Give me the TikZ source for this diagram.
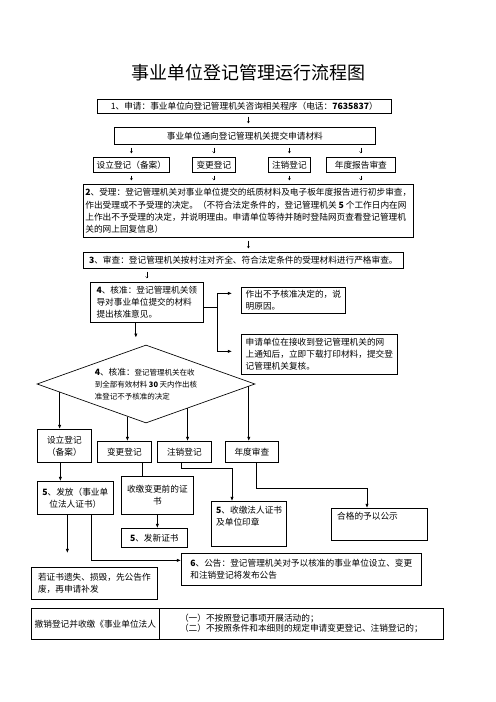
\documentclass[tikz,border=0pt]{standalone}
\usepackage{fontspec}
\setmainfont{Noto Sans CJK SC}
\usepackage{tikz}
\usetikzlibrary{positioning}
\usetikzlibrary{shapes.geometric}
\usetikzlibrary{arrows.meta}
\usetikzlibrary{calc}

\newcommand{\px}{1.2pt}

\tikzset{
  box/.style={draw, line width=0.8pt, inner sep=1pt, anchor=north west, align=center},
  dims/.style 2 args={minimum width=#1*\px, minimum height=#2*\px},
  judge/.style={draw, diamond, line width=0.8pt, inner sep=0pt, aspect=2.8, align=left},
  tick/.style={-{Straight Barb[length=2pt,width=3pt]}, line width=0.4pt, shorten <=3.5pt, shorten >=4.5pt},
  arr/.style={-{Latex[length=5pt,width=4pt]}, line width=0.9pt},
  wire/.style={line width=0.9pt}
}

\begin{document}
\begin{tikzpicture}[x=\px, y=-\px, font=\fontsize{10.4}{14.6}\selectfont]
  \useasboundingbox (0,0) rectangle (496,702);

  \node[font=\fontsize{21.6}{26}\selectfont] (title) at (248,73) {事业单位登记管理运行流程图};

  \node[box, dims={294}{14}] (apply) at (97,99) {1、申请：事业单位向登记管理机关咨询相关程序（电话：\textbf{7635837}）};
  \node[box, dims={261}{17}] (submit) at (114,127) {事业单位通向登记管理机关提交申请材料};

  \node[box, dims={76}{15}] (set) at (93,157) {设立登记（备案）};
  \node[box, dims={43}{15}] (chg) at (192,157) {变更登记};
  \node[box, dims={42}{15}] (cancel) at (268,157) {注销登记};
  \node[box, dims={69}{15}] (annual) at (326,157) {年度报告审查};

  \node[box, dims={330}{53}, align=left] (accept) at (83,184) {\textbf{2}、受理：登记管理机关对事业单位提交的纸质材料及电子板年度报告进行初步审查，\\作出受理或不予受理的决定。（不符合法定条件的，登记管理机关 \textbf{5} 个工作日内在网\\上作出不予受理的决定，并说明理由。申请单位等待并随时登陆网页查看登记管理机\\关的网上回复信息）};
  \node[box, dims={320}{16}] (review) at (83,252) {\textbf{3}、审查：登记管理机关按村注对齐全、符合法定条件的受理材料进行严格审查。};

  \node[box, dims={113}{40}, align=left] (approve) at (90,282) {\textbf{4}、核准：登记管理机关领\\导对事业单位提交的材料\\提出核准意见。};
  \node[box, dims={104}{26}, align=left] (refuse) at (241,287) {作出不予核准决定的，说\\明原因。};
  \node[box, dims={156}{40}, align=left] (recheck) at (241,334) {申请单位在接收到登记管理机关的网\\上通知后，立即下载打印材料，提交登\\记管理机关复核。};

  \node[judge, dims={218}{78}, font=\fontsize{9}{14.4}\selectfont] (decide) at (146,384) {{\fontsize{10.4}{14.4}\selectfont\textbf{4}、核准：}登记管理机关在收\\到全部有效材料 \textbf{30} 天内作出核\\准登记不予核准的决定};

  \node[box, dims={54}{33}] (setup) at (37,429) {设立登记\\（备案）};
  \node[box, dims={54}{21}] (change) at (97,441) {变更登记};
  \node[box, dims={54}{21}] (close) at (157,441) {注销登记};
  \node[box, dims={53}{21}] (yearly) at (225,441) {年度审查};

  \node[box, dims={76}{33}] (issue) at (37,481) {\textbf{5}、发放（事业单\\位法人证书）};
  \node[box, dims={72}{38}] (collect) at (121,476) {收缴变更前的证\\书};
  \node[box, dims={66}{19}] (newcert) at (121,528) {\textbf{5}、发新证书};
  \node[box, dims={75}{45}] (seal) at (211,501) {};
  \node[anchor=north west, align=left, inner sep=0pt] (sealtext) at ([shift={(5,5)}]seal.north west) {\textbf{5}、收缴法人证书\\及单位印章};
  \node[box, dims={96}{32}] (publicize) at (331,508) {};
  \node[anchor=north west, align=left, inner sep=0pt] (publictext) at ([shift={(6,4)}]publicize.north west) {合格的予以公示};
  \node[box, dims={126}{32}, align=left] (lost) at (31,567) {若证书遗失、损毁，先公告作\\废，再申请补发};
  \node[box, dims={240}{32}, align=left] (notice) at (181,553) {\textbf{6}、公告：登记管理机关对予以核准的事业单位设立、变更\\和注销登记将发布公告};

  \node[box, dims={128}{31}] (revoke) at (31,608) {撤销登记并收缴《事业单位法人};
  \node[box, dims={284}{31}, align=left, font=\fontsize{10.4}{12}\selectfont] (reasons) at (159,608) {（一）不按照登记事项开展活动的；\\（二）不按照条件和本细则的规定申请变更登记、注销登记的；};

  \draw[tick] ([xshift=4*\px]apply.south) -- ([xshift=4*\px]apply.south |- submit.north);
  \foreach \k in {set,chg,cancel,annual} {
    \draw[tick] (\k.north |- submit.south) -- (\k.north);
    \draw[tick] (\k.south) -- (\k.south |- accept.north);
  }
  \draw[tick] (accept.south) -- (accept.south |- review.north);
  \draw[tick] (approve.north |- review.south) -- (approve.north);

  \draw[arr, shorten >=8.4pt] ([xshift=-11*\px]approve.south) -- ([xshift=-11*\px]approve.south |- decide.north);
  \coordinate (fork) at ([shift={(14,5)}]approve.east);
  \draw[wire] (approve.east |- fork) -- (fork);
  \draw[arr, shorten >=10.8pt] (fork) |- ([yshift=7*\px]refuse.west);
  \draw[arr, shorten >=10.8pt] (fork) |- ([yshift=3*\px]recheck.west);

  \foreach \t/\a/\b/\k in {0.21/west/south/setup, 0.83/west/south/change, 0.38/south/east/close, 0.94/south/east/yearly} {
    \coordinate (hit) at ($(decide.\a)!\t!(decide.\b)$);
    \draw[arr] (hit) -- (hit |- \k.north);
  }

  \draw[arr] ([xshift=-4*\px]setup.south) -- ([xshift=-4*\px]setup.south |- issue.north);
  \draw[wire] ([xshift=18*\px]change.south) -- ([xshift=18*\px]change.south |- collect.north);
  \draw[arr] (collect.south) -- (collect.south |- newcert.north);
  \draw[arr] ([xshift=-3*\px]close.south) -- ++(0,6) -| ([xshift=21*\px]seal.north west);
  \draw[arr] ([xshift=4.5*\px]yearly.south) -- ++(0,26) -| ([xshift=36*\px]publicize.north west);
  \draw[arr, shorten >=16.8pt] ([xshift=-8*\px]issue.south) -- ([xshift=-8*\px]issue.south |- lost.north);
  \draw[arr] ([xshift=16*\px]issue.south) |- ([yshift=9*\px]notice.west);
\end{tikzpicture}
\end{document}
